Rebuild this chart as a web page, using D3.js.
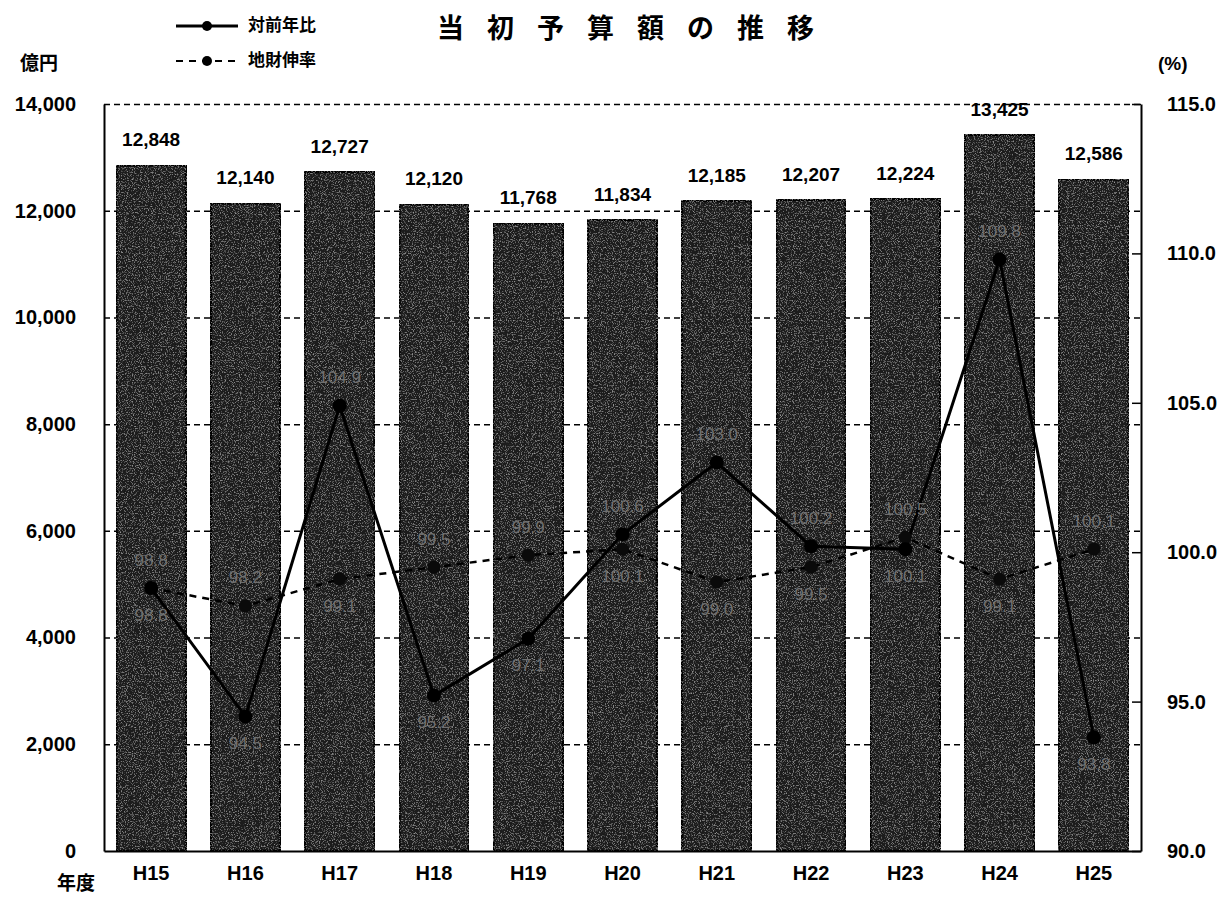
<!DOCTYPE html>
<html>
<head>
<meta charset="utf-8">
<script src="https://cdn.jsdelivr.net/npm/d3@7"></script>
<style>
  body { margin: 0; background: #fff; }
  svg { display: block; }
  .num { font-family: "Liberation Sans", Arial, sans-serif; }
  .jp  { font-family: "Noto Sans CJK JP", "Noto Sans", sans-serif; }
</style>
</head>
<body>
<div id="chart"></div>
<script>
// ── Data ──────────────────────────────────────────────
const years = ["H15", "H16", "H17", "H18", "H19", "H20", "H21", "H22", "H23", "H24", "H25"];
const budget = [12848, 12140, 12727, 12120, 11768, 11834, 12185, 12207, 12224, 13425, 12586]; // 億円
const yoyRatio = [98.8, 94.5, 104.9, 95.2, 97.1, 100.6, 103.0, 100.2, 100.1, 109.8, 93.8];      // 対前年比
const localRate = [98.8, 98.2, 99.1, 99.5, 99.9, 100.1, 99.0, 99.5, 100.5, 99.1, 100.1];        // 地財伸率
const leftTicks = [0, 2000, 4000, 6000, 8000, 10000, 12000, 14000];
const rightTicks = [90, 95, 100, 105, 110, 115];

// ── Layout ────────────────────────────────────────────
const W = 1226, H = 900;
const margin = { top: 104, right: 85, bottom: 49, left: 104 };
const width = W - margin.left - margin.right;
const height = H - margin.top - margin.bottom;

const svg = d3.select("#chart").append("svg")
  .attr("width", W).attr("height", H);

// grain texture like the scanned bars
const defs = svg.append("defs");
const grain = defs.append("filter").attr("id", "grain")
  .attr("x", 0).attr("y", 0).attr("width", 1).attr("height", 1);
grain.append("feTurbulence").attr("type", "fractalNoise")
  .attr("baseFrequency", 0.85).attr("numOctaves", 2).attr("seed", 7).attr("result", "n");
grain.append("feColorMatrix").attr("in", "n").attr("type", "matrix")
  .attr("values", "0 0 0 0 0.6  0 0 0 0 0.6  0 0 0 0 0.6  1.6 0 0 0 -0.84")
  .attr("result", "speck");
grain.append("feComposite").attr("in", "speck").attr("in2", "SourceGraphic")
  .attr("operator", "in").attr("result", "speckIn");
const gm = grain.append("feMerge");
gm.append("feMergeNode").attr("in", "SourceGraphic");
gm.append("feMergeNode").attr("in", "speckIn");

const g = svg.append("g").attr("transform", `translate(${margin.left},${margin.top})`);

const x = d3.scaleBand().domain(years).range([0, width]).paddingInner(0.26).paddingOuter(0.13);
const y = d3.scaleLinear().domain([0, 14000]).range([height, 0]);
const y2 = d3.scaleLinear().domain([90, 115]).range([height, 0]);
const cx = d => x(d) + x.bandwidth() / 2;

// Grid (dashed)
g.append("g")
  .call(d3.axisLeft(y).tickValues(leftTicks.slice(1)).tickSize(-width).tickFormat(""))
  .call(s => s.select(".domain").remove())
  .call(s => s.selectAll("line").attr("stroke", "#000").attr("stroke-width", 1.5).attr("stroke-dasharray", "6,4"));

// Bars
g.selectAll(".bar").data(budget).enter().append("rect")
  .attr("class", "bar")
  .attr("x", (d, i) => x(years[i]))
  .attr("y", d => y(d))
  .attr("width", x.bandwidth())
  .attr("height", d => height - y(d))
  .attr("fill", "#1a1a1a")
  .attr("stroke", "#000")
  .attr("stroke-width", 2.5)
  .attr("filter", "url(#grain)");

// Bar value labels
g.selectAll(".bar-label").data(budget).enter().append("text")
  .attr("class", "num")
  .attr("x", (d, i) => cx(years[i]))
  .attr("y", d => y(d) - 19)
  .attr("text-anchor", "middle")
  .attr("font-size", 19).attr("font-weight", "bold")
  .text(d => d3.format(",")(d));

// Axes
const leftAxis = g.append("g")
  .call(d3.axisLeft(y).tickValues(leftTicks).tickSize(0).tickPadding(28).tickFormat(d3.format(",")));
leftAxis.select(".domain").attr("stroke", "#000").attr("stroke-width", 2);
leftAxis.selectAll("text").attr("class", "num").attr("font-size", 20).attr("font-weight", "bold").attr("fill", "#000");

const rightAxis = g.append("g").attr("transform", `translate(${width},0)`)
  .call(d3.axisRight(y2).tickValues(rightTicks).tickSizeInner(-9).tickSizeOuter(0).tickPadding(26)
    .tickFormat(d3.format(".1f")));
rightAxis.select(".domain").attr("stroke", "#000").attr("stroke-width", 2);
rightAxis.selectAll("line").attr("stroke", "#000").attr("stroke-width", 1.5);
rightAxis.selectAll("text").attr("class", "num").attr("font-size", 20).attr("font-weight", "bold")
  .attr("fill", "#000").attr("text-anchor", "start");

const bottomAxis = g.append("g").attr("transform", `translate(0,${height})`)
  .call(d3.axisBottom(x).tickSize(0).tickPadding(15));
bottomAxis.select(".domain").attr("stroke", "#000").attr("stroke-width", 2);
bottomAxis.selectAll("text").attr("class", "num").attr("font-size", 20).attr("font-weight", "bold").attr("fill", "#000");

// Lines
const line = d3.line().x((d, i) => cx(years[i])).y(d => y2(d));

g.append("path").datum(localRate)
  .attr("fill", "none").attr("stroke", "#000").attr("stroke-width", 2.5)
  .attr("stroke-dasharray", "7,6").attr("d", line);
g.append("path").datum(yoyRatio)
  .attr("fill", "none").attr("stroke", "#000").attr("stroke-width", 3)
  .attr("d", line);

g.selectAll(".dot-local").data(localRate).enter().append("circle")
  .attr("cx", (d, i) => cx(years[i])).attr("cy", d => y2(d)).attr("r", 6.5)
  .attr("fill", "#0a0a0a");
g.selectAll(".dot-yoy").data(yoyRatio).enter().append("circle")
  .attr("cx", (d, i) => cx(years[i])).attr("cy", d => y2(d)).attr("r", 7)
  .attr("fill", "#000");

// Point labels: upper series above, lower series below
function pointLabels(series, other) {
  g.selectAll(null).data(series).enter().append("text")
    .attr("class", "num")
    .attr("x", (d, i) => cx(years[i]))
    .attr("y", (d, i) => y2(d) + (d >= other[i] && !(d === other[i] && series === localRate) ? -27 : 28))
    .attr("dominant-baseline", "middle")
    .attr("text-anchor", "middle")
    .attr("font-size", 17)
    .attr("fill", "#707070")
    .text(d => d3.format(".1f")(d));
}
pointLabels(yoyRatio, localRate);
pointLabels(localRate, yoyRatio);

// Title, units, legend
svg.append("text").attr("class", "jp")
  .attr("x", 637).attr("y", 38).attr("text-anchor", "middle")
  .attr("font-size", 27).attr("font-weight", "bold").attr("letter-spacing", "23px")
  .text("当初予算額の推移");

svg.append("text").attr("class", "jp").attr("x", 20).attr("y", 70)
  .attr("font-size", 19).attr("font-weight", "bold").text("億円");
svg.append("text").attr("class", "num").attr("x", 1158).attr("y", 70)
  .attr("font-size", 19).attr("font-weight", "bold").text("(%)");
svg.append("text").attr("class", "jp").attr("x", 57).attr("y", 890)
  .attr("font-size", 19).attr("font-weight", "bold").text("年度");

const legend = [
  { name: "対前年比", dash: null, w: 3, yy: 26 },
  { name: "地財伸率", dash: "7,6", w: 2, yy: 61 }
];
legend.forEach(l => {
  svg.append("line").attr("x1", 176).attr("x2", 238).attr("y1", l.yy).attr("y2", l.yy)
    .attr("stroke", "#000").attr("stroke-width", l.w).attr("stroke-dasharray", l.dash);
  svg.append("circle").attr("cx", 207).attr("cy", l.yy).attr("r", 5).attr("fill", "#000");
  svg.append("text").attr("class", "jp").attr("x", 248).attr("y", l.yy)
    .attr("dominant-baseline", "middle").attr("font-size", 17).attr("font-weight", "bold")
    .text(l.name);
});
</script>
</body>
</html>
